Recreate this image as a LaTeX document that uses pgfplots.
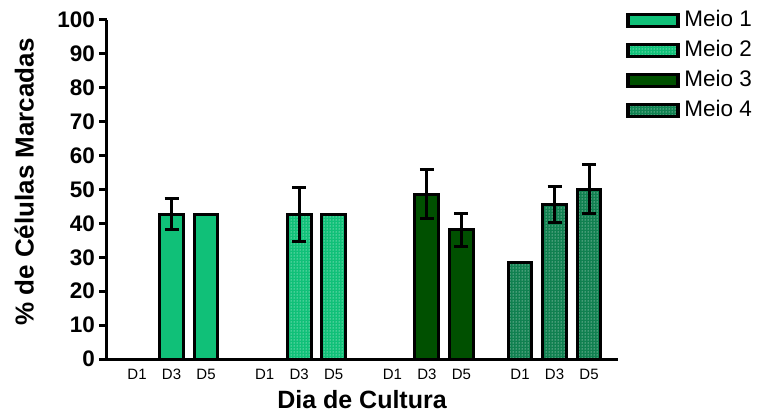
\documentclass[border=0pt]{standalone}
\usepackage{fontspec}
\setmainfont{Liberation Sans}
\usepackage{pgfplots}
\pgfplotsset{compat=1.18}
\usetikzlibrary{patterns}
\definecolor{mA}{RGB}{16,192,120}
\definecolor{mC}{RGB}{0,80,0}
\definecolor{mD}{RGB}{16,128,80}
\begin{document}
\begin{tikzpicture}[x=1pt,y=1pt]
\begin{axis}[
  at={(107pt,59pt)}, anchor=south west,
  width=511pt, height=339pt, scale only axis,
  xmin=-0.87, xmax=13.94, ymin=0, ymax=100,
  clip=false,
  axis lines*=left,
  axis line style={line width=3pt, black},
  ybar, bar width=0.69,
  ytick={0,10,...,100},
  xtick={0,1,2,3.7,4.7,5.7,7.4,8.4,9.4,11.1,12.1,13.1},
  xticklabels={D1,D3,D5,D1,D3,D5,D1,D3,D5,D1,D3,D5},
  xtick style={draw=none},
  ytick style={line width=3pt, black},
  tick align=outside, major tick length=8pt,
  /pgf/number format/assume math mode=true,
  yticklabel style={font=\fontsize{22.5}{24}\selectfont\bfseries, anchor=east, inner sep=0pt, xshift=-4pt},
  xticklabel style={font=\fontsize{15}{17}\selectfont, anchor=center, yshift=-7pt},
  ylabel={\% de Células Marcadas},
  ylabel style={font=\fontsize{26}{28}\selectfont\bfseries, at={(axis description cs:-0.162,0.522)}, anchor=center},
  xlabel={Dia de Cultura},
  xlabel style={font=\fontsize{25}{27}\selectfont\bfseries, at={(axis description cs:0.499,-0.12)}, anchor=center},
  legend image code/.code={\draw[#1,line width=3.5pt] (0pt,-6pt) rectangle (50pt,6pt);},
  legend style={at={(axis description cs:1.016,1.034)}, anchor=north west, draw=none, fill=none,
    font=\fontsize{22.5}{24}\selectfont, row sep=6pt, inner sep=0pt,
    nodes={inner xsep=4.5pt, inner ysep=2pt, text height=16pt, text depth=4pt}},
  legend cell align=left,
  error bars/error bar style={line width=3pt, black},
  error bars/error mark options={rotate=90, mark size=7pt, line width=3pt, black},
]
\addplot[bar shift=0pt, draw=black, line width=3pt, fill=mA,
  error bars/.cd, y dir=both, y explicit]
  coordinates {(0,0) +- (0,0) (1,42.7) +- (0,4.5) (2,42.7) +- (0,0)};
\addplot[bar shift=0pt, draw=black, line width=3pt, preaction={fill=mA}, pattern=dots, pattern color=white,
  error bars/.cd, y dir=both, y explicit]
  coordinates {(3.7,0) +- (0,0) (4.7,42.7) +- (0,7.9) (5.7,42.7) +- (0,0)};
\addplot[bar shift=0pt, draw=black, line width=3pt, fill=mC,
  error bars/.cd, y dir=both, y explicit]
  coordinates {(7.4,0) +- (0,0) (8.4,48.6) +- (0,7.3) (9.4,38.1) +- (0,4.9)};
\addplot[bar shift=0pt, draw=black, line width=3pt, preaction={fill=mD}, pattern=dots, pattern color=white,
  error bars/.cd, y dir=both, y explicit]
  coordinates {(11.1,28.4) +- (0,0) (12.1,45.6) +- (0,5.4) (13.1,50.1) +- (0,7.2)};
\legend{Meio 1, Meio 2, Meio 3, Meio 4}
\end{axis}
\pgfresetboundingbox
\path[use as bounding box] (0,0) rectangle (761,418);
\end{tikzpicture}
\end{document}
